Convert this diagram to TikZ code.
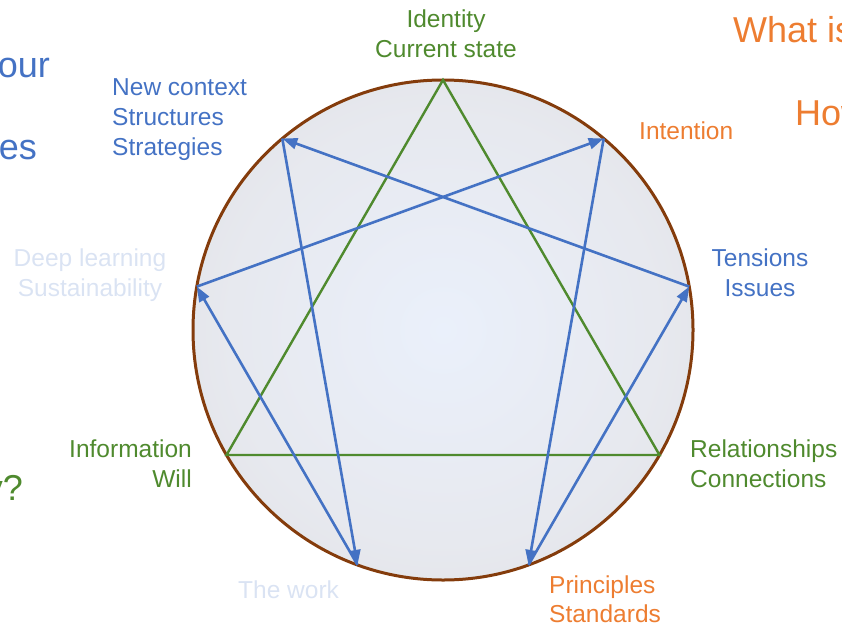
\documentclass[tikz,border=0pt]{standalone}
\usepackage{fontspec}
\setmainfont{Liberation Sans}
\usetikzlibrary{arrows.meta}
\definecolor{grn}{HTML}{4F8A2E}
\definecolor{blu}{HTML}{4472C4}
\definecolor{org}{HTML}{ED7D31}
\definecolor{pale}{HTML}{DAE3F3}
\definecolor{brn}{HTML}{843C0C}
\pgfdeclareradialshading{disc}{\pgfpoint{0bp}{0bp}}{rgb(0bp)=(0.918,0.941,0.984); rgb(22bp)=(0.905,0.912,0.935); rgb(50bp)=(0.845,0.845,0.85)}
\tikzset{
  lbl/.style={font=\fontsize{24.5}{29}\selectfont, inner sep=0pt},
  big/.style={font=\fontsize{36}{40}\selectfont, inner sep=0pt},
  tri/.style={grn, line width=2.4pt, line join=miter},
  hexline/.style={blu, line width=2.6pt, -{Triangle[length=15pt,width=11pt]}},
}
\begin{document}
\begin{tikzpicture}[x=1pt,y=-1pt]
\useasboundingbox (0,0) rectangle (842,626);
\clip (0,0) rectangle (842,626);
\coordinate (c) at (443,330);
\coordinate (p0) at (443,80);
\coordinate (p1) at (603.7,138.5);
\coordinate (p2) at (689.2,286.6);
\coordinate (p3) at (659.5,455);
\coordinate (p4) at (528.5,564.9);
\coordinate (p5) at (357.5,564.9);
\coordinate (p6) at (226.5,455);
\coordinate (p7) at (196.8,286.6);
\coordinate (p8) at (282.3,138.5);
% disc
\shade[shading=disc] (c) circle[radius=250];
\draw[brn, line width=3pt] (c) circle[radius=250];
% triangle
\draw[tri] (p0) -- (p3) -- (p6) -- cycle;
% hexad
\draw[hexline] (p1) -- (p4);
\draw[hexline] (p4) -- (p2);
\draw[hexline] (p2) -- (p8);
\draw[hexline] (p8) -- (p5);
\draw[hexline] (p5) -- (p7);
\draw[hexline] (p7) -- (p1);
% labels
\node[lbl, grn, anchor=base] (id1) at (446,28) {Identity};
\node[lbl, grn, anchor=base] (id2) at (446,58) {Current state};
\node[lbl, blu, anchor=base west] (nc1) at (112,95) {New context};
\node[lbl, blu, anchor=base west] (nc2) at (112,125) {Structures};
\node[lbl, blu, anchor=base west] (nc3) at (112,155) {Strategies};
\node[lbl, org, anchor=base west] (int) at (639,139) {Intention};
\node[lbl, blu, anchor=base] (ts1) at (760,266) {Tensions};
\node[lbl, blu, anchor=base] (ts2) at (760,296) {Issues};
\node[lbl, grn, anchor=base west] (rl1) at (690,457) {Relationships};
\node[lbl, grn, anchor=base west] (rl2) at (690,487) {Connections};
\node[lbl, org, anchor=base west] (pr1) at (549,593) {Principles};
\node[lbl, org, anchor=base west] (pr2) at (549,622) {Standards};
\node[lbl, pale, anchor=base west] (wk) at (238,598) {The work};
\node[lbl, grn, anchor=base east] (in1) at (192,457) {Information};
\node[lbl, grn, anchor=base east] (in2) at (192,487) {Will};
\node[lbl, pale, anchor=base] (dl1) at (90,266) {Deep learning};
\node[lbl, pale, anchor=base] (dl2) at (90,296) {Sustainability};
% clipped large texts
\node[big, blu, anchor=base east] (b1) at (50,77) {our};
\node[big, blu, anchor=base east] (b2) at (37,159) {es};
\node[big, grn, anchor=base east] (b3) at (23,500) {y?};
\node[big, org, anchor=base west] (b4) at (733,43) {What is};
\node[big, org, anchor=base west] (b5) at (795,125) {How};
\end{tikzpicture}
\end{document}
